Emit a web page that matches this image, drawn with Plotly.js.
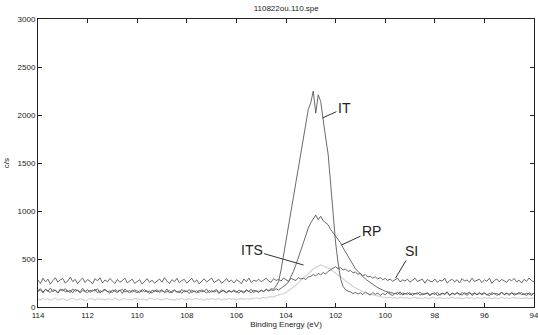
<!DOCTYPE html>
<html>
<head>
<meta charset="utf-8">
<script src="https://cdn.plot.ly/plotly-3.0.1.min.js"></script>
<style>html,body{margin:0;padding:0;background:#fff;}#chart{width:538px;height:335px;}</style>
</head>
<body>
<div id="chart"></div>
<script>
// Binding energy grid (eV), 0.1 eV steps
const energy = [
114.0,113.9,113.8,113.7,113.6,113.5,113.4,113.3,113.2,113.1,
113.0,112.9,112.8,112.7,112.6,112.5,112.4,112.3,112.2,112.1,
112.0,111.9,111.8,111.7,111.6,111.5,111.4,111.3,111.2,111.1,
111.0,110.9,110.8,110.7,110.6,110.5,110.4,110.3,110.2,110.1,
110.0,109.9,109.8,109.7,109.6,109.5,109.4,109.3,109.2,109.1,
109.0,108.9,108.8,108.7,108.6,108.5,108.4,108.3,108.2,108.1,
108.0,107.9,107.8,107.7,107.6,107.5,107.4,107.3,107.2,107.1,
107.0,106.9,106.8,106.7,106.6,106.5,106.4,106.3,106.2,106.1,
106.0,105.9,105.8,105.7,105.6,105.5,105.4,105.3,105.2,105.1,
105.0,104.9,104.8,104.7,104.6,104.5,104.4,104.3,104.2,104.1,
104.0,103.9,103.8,103.7,103.6,103.5,103.4,103.3,103.2,103.1,
103.0,102.9,102.8,102.7,102.6,102.5,102.4,102.3,102.2,102.1,
102.0,101.9,101.8,101.7,101.6,101.5,101.4,101.3,101.2,101.1,
101.0,100.9,100.8,100.7,100.6,100.5,100.4,100.3,100.2,100.1,
100.0,99.9,99.8,99.7,99.6,99.5,99.4,99.3,99.2,99.1,
99.0,98.9,98.8,98.7,98.6,98.5,98.4,98.3,98.2,98.1,
98.0,97.9,97.8,97.7,97.6,97.5,97.4,97.3,97.2,97.1,
97.0,96.9,96.8,96.7,96.6,96.5,96.4,96.3,96.2,96.1,
96.0,95.9,95.8,95.7,95.6,95.5,95.4,95.3,95.2,95.1,
95.0,94.9,94.8,94.7,94.6,94.5,94.4,94.3,94.2,94.1,
94.0];

const seriesSI = [
280,245,300,262,290,238,275,305,258,284,
296,250,270,312,265,288,242,279,300,256,
286,268,240,295,272,305,250,282,262,298,
270,244,288,258,276,300,252,268,290,246,
262,284,238,272,296,255,280,248,266,292,
258,306,270,244,285,262,298,252,276,288,
248,272,300,258,282,240,268,294,260,278,
302,256,274,288,248,266,296,262,280,250,
284,270,242,292,264,300,256,278,268,290,
262,284,300,270,258,296,276,288,270,302,
280,268,298,284,276,306,292,300,286,314,
318,338,324,350,336,358,344,372,388,402,
420,398,412,386,396,370,382,356,364,342,
350,326,338,312,320,300,314,292,306,284,
298,276,290,268,286,300,262,282,272,290,
258,280,300,266,274,290,248,286,270,262,
292,256,280,270,300,248,276,288,262,284,
250,296,270,282,258,300,266,278,290,254,
284,268,300,246,276,292,262,288,270,256,
290,272,298,260,280,250,288,266,302,274,
262];

const seriesIT = [
172,190,155,182,165,198,160,178,150,186,
168,192,158,175,148,184,170,160,195,162,
180,152,176,166,190,145,172,185,158,168,
150,182,164,176,142,188,160,170,155,178,
166,148,184,158,172,140,176,162,180,150,
170,156,188,146,164,178,152,168,142,174,
160,182,150,170,144,176,158,166,186,148,
172,156,168,140,180,162,150,174,158,166,
152,178,160,146,172,164,184,150,170,158,
176,162,184,168,190,185,220,265,385,540,
690,820,990,1150,1310,1440,1620,1770,1950,2060,
2130,2250,2020,2210,2140,1930,1760,1590,1270,930,
670,460,295,215,180,165,158,140,152,135,
148,130,156,138,124,150,132,146,120,142,
128,150,136,118,146,130,158,124,140,132,
150,120,142,134,156,126,138,148,116,144,
130,152,122,140,136,158,118,146,128,150,
134,124,148,138,156,120,142,130,152,126,
144,132,118,150,136,140,124,156,128,146,
120,148,136,130,154,126,140,118,150,134,
142];

const seriesRP = [
160,178,148,185,166,152,180,170,145,175,
182,158,170,150,188,164,176,146,172,160,
150,174,162,186,148,170,158,180,166,144,
178,160,150,172,184,155,168,146,176,162,
148,170,160,182,152,166,144,174,158,168,
180,150,162,172,146,176,160,150,184,156,
166,140,174,158,170,150,180,162,146,172,
156,168,182,150,160,174,148,166,156,178,
162,146,170,156,180,160,150,176,164,154,
172,160,184,166,178,170,190,176,196,210,
232,262,310,372,440,508,592,668,752,822,
878,925,958,910,945,898,880,856,808,775,
742,705,668,618,572,528,478,440,398,372,
340,318,292,272,252,238,218,202,186,176,
164,158,150,146,138,152,130,144,136,148,
126,142,134,150,122,140,132,146,128,138,
148,120,136,144,130,152,124,140,134,146,
126,150,138,122,144,132,148,128,140,136,
150,124,142,130,146,120,138,152,126,144,
132,148,122,140,136,150,128,144,134,120,
146];

const seriesITS = [
82,72,90,76,86,70,84,92,74,80,
88,76,70,84,92,78,74,86,80,68,
76,88,82,72,90,78,84,70,86,80,
74,92,80,70,84,88,76,82,72,90,
84,74,86,78,70,92,80,76,88,82,
72,84,90,76,80,70,86,78,92,74,
82,88,74,80,92,76,84,70,86,80,
90,76,82,88,72,84,78,92,80,86,
76,84,90,80,88,78,92,84,96,88,
94,100,92,106,110,104,118,124,132,140,
150,168,182,204,226,252,278,302,330,352,
372,396,410,428,438,430,420,408,392,372,
352,330,308,288,268,248,230,214,198,184,
170,160,148,140,132,124,118,112,108,104,
100,96,104,92,98,88,102,94,90,98,
86,96,100,90,94,84,98,92,88,102,
94,88,100,92,86,96,90,104,88,94,
98,86,92,100,90,96,84,98,92,88,
100,90,94,86,98,92,88,102,90,96,
86,94,100,90,96,88,92,98,86,94,
90];

const xTicks = [114,112,110,108,106,104,102,100,98,96,94];
const yTicks = [0,500,1000,1500,2000,2500,3000];

const labelNames = ["IT","RP","SI","ITS"];
const labelPoints = [[102.53,1969],[101.76,646],[99.58,302],[103.29,437]];
const labelOffsets = [[22,-10],[30,-14],[16,-27],[-52,-15]];

const FONT = "Arial, 'Liberation Sans', sans-serif";

const traces = [
  {x: energy, y: seriesITS, type:'scatter', mode:'lines', name:'ITS', line:{color:'#d4d4d4', width:1.2}},
  {x: energy, y: seriesIT, type:'scatter', mode:'lines', name:'IT', line:{color:'#595959', width:0.9}},
  {x: energy, y: seriesRP, type:'scatter', mode:'lines', name:'RP', line:{color:'#595959', width:0.9}},
  {x: energy, y: seriesSI, type:'scatter', mode:'lines', name:'SI', line:{color:'#595959', width:0.9}}
];

const annotations = labelNames.map((n,i)=>({
  x: labelPoints[i][0], y: labelPoints[i][1], xref:'x', yref:'y',
  text: n, showarrow:true, arrowhead:0, arrowwidth:1, arrowcolor:'#333',
  ax: labelOffsets[i][0], ay: labelOffsets[i][1], standoff:0,
  font:{family:FONT, size:14, color:'#222'}
}));

const layout = {
  width:538, height:335,
  margin:{l:38, r:4, t:19, b:28},
  paper_bgcolor:'#fff', plot_bgcolor:'#fff',
  showlegend:false,
  font:{family:FONT, size:8, color:'#222'},
  title:{text:'110822ou.110.spe', font:{family:FONT, size:8, color:'#222'}, x:0.532, xanchor:'center', y:0.976, yanchor:'middle'},
  xaxis:{
    range:[114,94], tickmode:'array', tickvals:xTicks, ticktext:xTicks.map(String),
    ticks:'inside', ticklen:4, tickwidth:1, tickcolor:'#222',
    showline:true, linecolor:'#222', linewidth:1, mirror:'ticks',
    showgrid:false, zeroline:false, ticklabeloverflow:'allow',
    tickfont:{family:FONT, size:8, color:'#222'},
    title:{text:'Binding Energy (eV)', font:{family:FONT, size:8, color:'#222'}, standoff:2}
  },
  yaxis:{
    range:[0,3000], tickmode:'array', tickvals:yTicks, ticktext:yTicks.map(String),
    ticks:'inside', ticklen:4, tickwidth:1, tickcolor:'#222',
    showline:true, linecolor:'#222', linewidth:1, mirror:'ticks',
    showgrid:false, zeroline:false, ticklabeloverflow:'allow',
    tickfont:{family:FONT, size:8, color:'#222'},
    title:{text:'c/s', font:{family:FONT, size:8, color:'#222'}, standoff:6}
  },
  annotations: annotations
};

Plotly.newPlot('chart', traces, layout, {displayModeBar:false, staticPlot:true});
</script>
</body>
</html>
